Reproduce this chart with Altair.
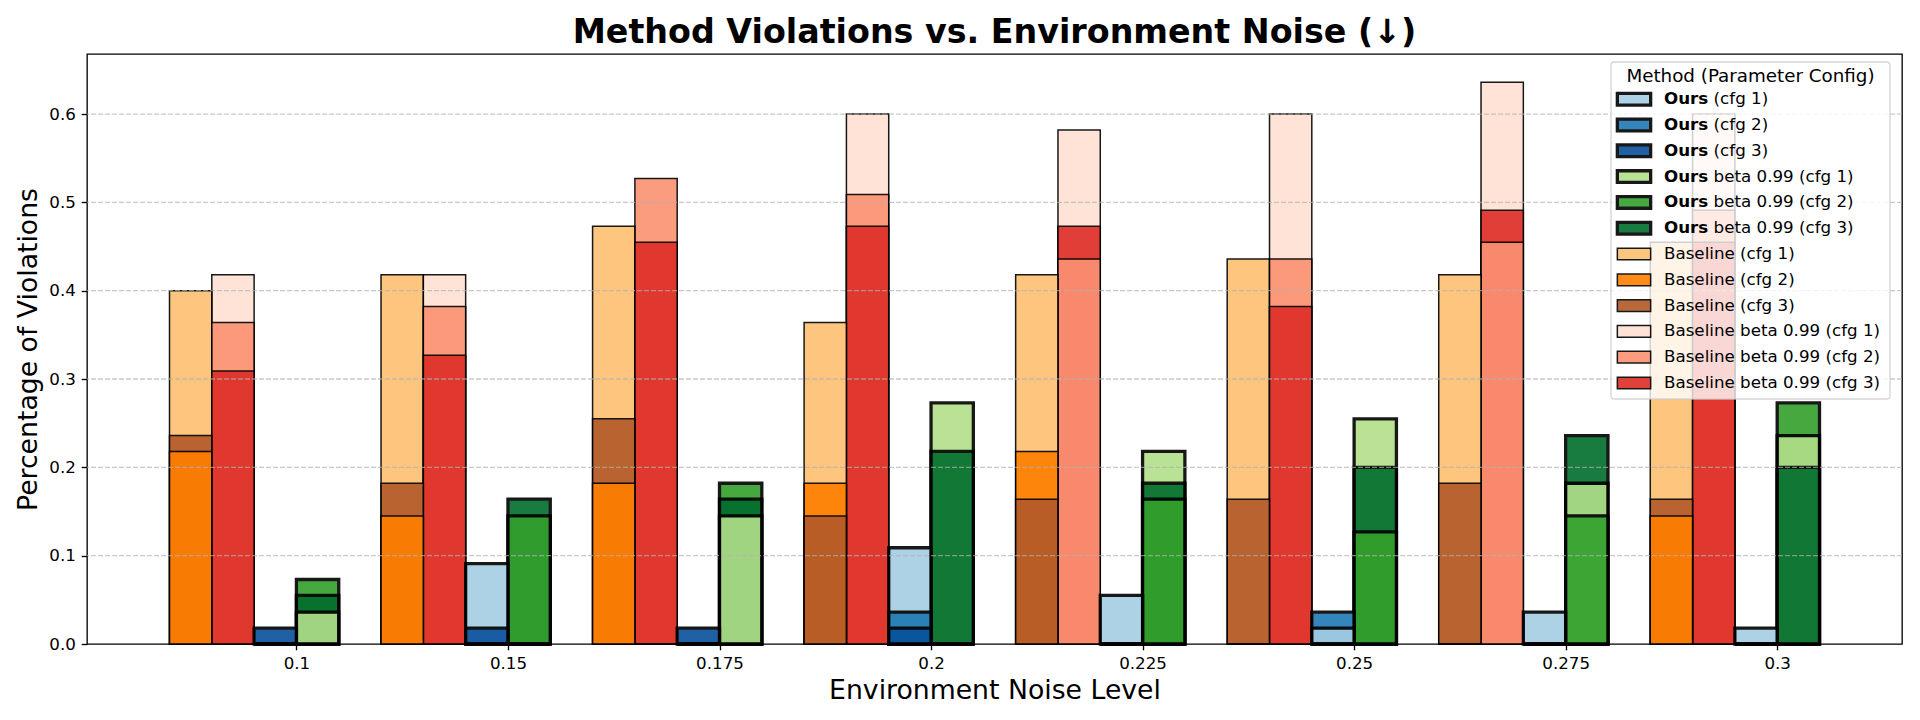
import altair as alt
import pandas as pd

# ---------------- data ----------------
noise_levels = ["0.1", "0.15", "0.175", "0.2", "0.225", "0.25", "0.275", "0.3"]
methods = ["Baseline", "Baseline beta 0.99", "Ours", "Ours beta 0.99"]
config_names = ["cfg 1", "cfg 2", "cfg 3"]

baseline_cfg1 = [0.400, 0.418, 0.473, 0.364, 0.418, 0.436, 0.418, 0.455]
baseline_cfg2 = [0.218, 0.145, 0.182, 0.182, 0.218, 0.000, 0.000, 0.145]
baseline_cfg3 = [0.236, 0.182, 0.255, 0.145, 0.164, 0.164, 0.182, 0.164]

baseline_beta_cfg1 = [0.418, 0.418, 0.000, 0.600, 0.582, 0.600, 0.636, 0.600]
baseline_beta_cfg2 = [0.364, 0.382, 0.527, 0.509, 0.436, 0.436, 0.455, 0.491]
baseline_beta_cfg3 = [0.309, 0.327, 0.455, 0.473, 0.473, 0.382, 0.491, 0.455]

ours_cfg1 = [0.000, 0.091, 0.000, 0.109, 0.055, 0.018, 0.036, 0.018]
ours_cfg2 = [0.000, 0.000, 0.000, 0.036, 0.000, 0.036, 0.000, 0.000]
ours_cfg3 = [0.018, 0.018, 0.018, 0.018, 0.000, 0.000, 0.000, 0.000]

ours_beta_cfg1 = [0.036, 0.000, 0.145, 0.273, 0.218, 0.255, 0.182, 0.236]
ours_beta_cfg2 = [0.073, 0.145, 0.182, 0.000, 0.164, 0.127, 0.145, 0.273]
ours_beta_cfg3 = [0.055, 0.164, 0.164, 0.218, 0.182, 0.200, 0.236, 0.200]

y_ticks = [0.0, 0.1, 0.2, 0.3, 0.4, 0.5, 0.6]

# legend order and palette
legend_order = [
    "Ours (cfg 1)", "Ours (cfg 2)", "Ours (cfg 3)",
    "Ours beta 0.99 (cfg 1)", "Ours beta 0.99 (cfg 2)", "Ours beta 0.99 (cfg 3)",
    "Baseline (cfg 1)", "Baseline (cfg 2)", "Baseline (cfg 3)",
    "Baseline beta 0.99 (cfg 1)", "Baseline beta 0.99 (cfg 2)", "Baseline beta 0.99 (cfg 3)",
]
palette = [
    "#a6cee3", "#1f78b4", "#08519c",
    "#b2df8a", "#33a02c", "#006d2c",
    "#fdbf6f", "#ff7f00", "#b15928",
    "#fee0d2", "#fc9272", "#de2d26",
]

# ---------------- tables ----------------
series_values = {
    "Baseline": [baseline_cfg1, baseline_cfg2, baseline_cfg3],
    "Baseline beta 0.99": [baseline_beta_cfg1, baseline_beta_cfg2, baseline_beta_cfg3],
    "Ours": [ours_cfg1, ours_cfg2, ours_cfg3],
    "Ours beta 0.99": [ours_beta_cfg1, ours_beta_cfg2, ours_beta_cfg3],
}
BAR_W = 0.2
group_offset = {m: (k - 3) * BAR_W for k, m in enumerate(methods)}

rows = []
for m in methods:
    for c, vals in enumerate(series_values[m]):
        for i, v in enumerate(vals):
            x0 = i + group_offset[m]
            rows.append({
                "noise": noise_levels[i],
                "method": m,
                "series": f"{m} ({config_names[c]})",
                "value": v,
                "x0": x0,
                "x1": x0 + BAR_W,
                "kind": "ours" if m.startswith("Ours") else "base",
            })
df = pd.DataFrame(rows).sort_values("value", ascending=False, kind="stable")

leg_rows = []
for k, s in enumerate(legend_order):
    is_ours = s.startswith("Ours")
    leg_rows.append({
        "row": k,
        "series": s,
        "kind": "ours" if is_ours else "base",
        "bold": "Ours" if is_ours else "",
        "rest": s[len("Ours "):] if is_ours else s,
    })
leg_df = pd.DataFrame(leg_rows)

# ---------------- styling ----------------
FONT = "DejaVu Sans"
PLOT_W, PLOT_H = 1815, 590
n = len(noise_levels)

xscale = alt.Scale(domain=[-0.99, n - 1 + 0.59], nice=False, zero=False)
yscale = alt.Scale(domain=[0, 0.668], nice=False, zero=True)
color = alt.Color("series:N", scale=alt.Scale(domain=legend_order, range=palette), legend=None)

label_expr = "[" + ",".join(f"'{s}'" for s in noise_levels) + "][round(datum.value)]"

x_axis = alt.Axis(
    values=list(range(n)), labelExpr=label_expr, title="Environment Noise Level",
    grid=False, domain=False, tickSize=5.8, tickWidth=1.33, tickColor="black",
    labelFontSize=16.7, labelPadding=5.8, labelColor="black", labelFont=FONT,
    labelFlush=False, labelOverlap=False,
    titleFontSize=26.7, titlePadding=5, titleColor="black", titleFont=FONT,
    titleFontWeight="normal",
)
y_axis = alt.Axis(
    values=y_ticks, format=".1f", title="Percentage of Violations",
    grid=False, domain=False, tickSize=5.8, tickWidth=1.33, tickColor="black",
    labelFontSize=16.7, labelPadding=5.8, labelColor="black", labelFont=FONT,
    labelFlush=False, labelOverlap=False,
    titleFontSize=26.7, titlePadding=6, titleColor="black", titleFont=FONT,
    titleFontWeight="normal",
)

def bar_layer(kind, stroke_w, y_ax):
    return alt.Chart(df).transform_filter(alt.datum.kind == kind).mark_rect(
        stroke="black", strokeWidth=stroke_w, opacity=0.9
    ).encode(
        x=alt.X("x0:Q", scale=xscale, axis=x_axis),
        x2="x1:Q",
        y=alt.Y("value:Q", scale=yscale, axis=y_ax),
        y2=alt.datum(0),
        color=color,
        order=alt.Order("value:Q", sort="descending"),
    )

bars_base = bar_layer("base", 1.5, y_axis)
bars_ours = bar_layer("ours", 3.3, None)

grid = alt.Chart(pd.DataFrame({"v": y_ticks})).transform_filter(alt.datum.v > 0).mark_rule(
    strokeDash=[4.9, 2.1], color="#b0b0b0", opacity=0.7, strokeWidth=1.33
).encode(y=alt.Y("v:Q", scale=yscale, axis=None))

# ---------------- legend (drawn as marks, with bold "Ours") ----------------
LEG_X0, LEG_X1, LEG_Y0, LEG_Y1 = 1524, 1803, 8, 345
ROW_Y0, ROW_Y1 = 45.2, 329
SW_X = 1547
TXT_X = 1577
row_scale = alt.Scale(domain=[0, len(legend_order) - 1], range=[ROW_Y0, ROW_Y1])
one = pd.DataFrame({"k": [0]})

frame = alt.Chart(one).mark_rect(
    fill="white", fillOpacity=0.8, stroke="#cccccc", strokeOpacity=0.8,
    strokeWidth=1.33, cornerRadius=3.3
).encode(x=alt.value(LEG_X0), x2=alt.value(LEG_X1), y=alt.value(LEG_Y0), y2=alt.value(LEG_Y1))

leg_title = alt.Chart(one).mark_text(
    text="Method (Parameter Config)", font=FONT, fontSize=18.3, color="black",
    align="center", baseline="middle"
).encode(x=alt.value((LEG_X0 + LEG_X1) / 2), y=alt.value(22.5))

swatch_shape = "M-1,-0.35L1,-0.35L1,0.35L-1,0.35Z"

def swatch_layer(kind, stroke_w):
    return alt.Chart(leg_df).transform_filter(alt.datum.kind == kind).mark_point(
        shape=swatch_shape, size=33.3 ** 2, filled=True, opacity=0.9,
        stroke="black", strokeWidth=stroke_w
    ).encode(
        x=alt.value(SW_X),
        y=alt.Y("row:Q", scale=row_scale, axis=None),
        color=color,
    )

sw_base = swatch_layer("base", 1.5)
sw_ours = swatch_layer("ours", 3.3)

txt_bold = alt.Chart(leg_df).transform_filter(alt.datum.kind == "ours").mark_text(
    font=FONT, fontSize=16.7, fontWeight="bold", color="black", align="left", baseline="middle"
).encode(x=alt.value(TXT_X), y=alt.Y("row:Q", scale=row_scale, axis=None), text="bold:N")

txt_rest_ours = alt.Chart(leg_df).transform_filter(alt.datum.kind == "ours").mark_text(
    font=FONT, fontSize=16.7, color="black", align="left", baseline="middle", dx=49.6
).encode(x=alt.value(TXT_X), y=alt.Y("row:Q", scale=row_scale, axis=None), text="rest:N")

txt_rest_base = alt.Chart(leg_df).transform_filter(alt.datum.kind == "base").mark_text(
    font=FONT, fontSize=16.7, color="black", align="left", baseline="middle"
).encode(x=alt.value(TXT_X), y=alt.Y("row:Q", scale=row_scale, axis=None), text="rest:N")

chart = alt.layer(
    bars_base, bars_ours, grid, frame, leg_title,
    sw_base, sw_ours, txt_bold, txt_rest_ours, txt_rest_base,
).resolve_scale(
    y="independent"
).properties(
    width=PLOT_W, height=PLOT_H,
    title=alt.TitleParams(
        "Method Violations vs. Environment Noise (↓)", font=FONT, fontSize=33.3,
        fontWeight="bold", color="black", anchor="middle", frame="group",
        baseline="alphabetic", offset=-22,
    ),
    autosize=alt.AutoSizeParams(type="none"),
    padding={"left": 79, "top": 46, "right": 5, "bottom": 64},
).configure(
    background="white", font=FONT
).configure_view(
    stroke="black", strokeWidth=1.33
)

chart.save("out.html", embed_options={"renderer": "svg", "actions": False})
